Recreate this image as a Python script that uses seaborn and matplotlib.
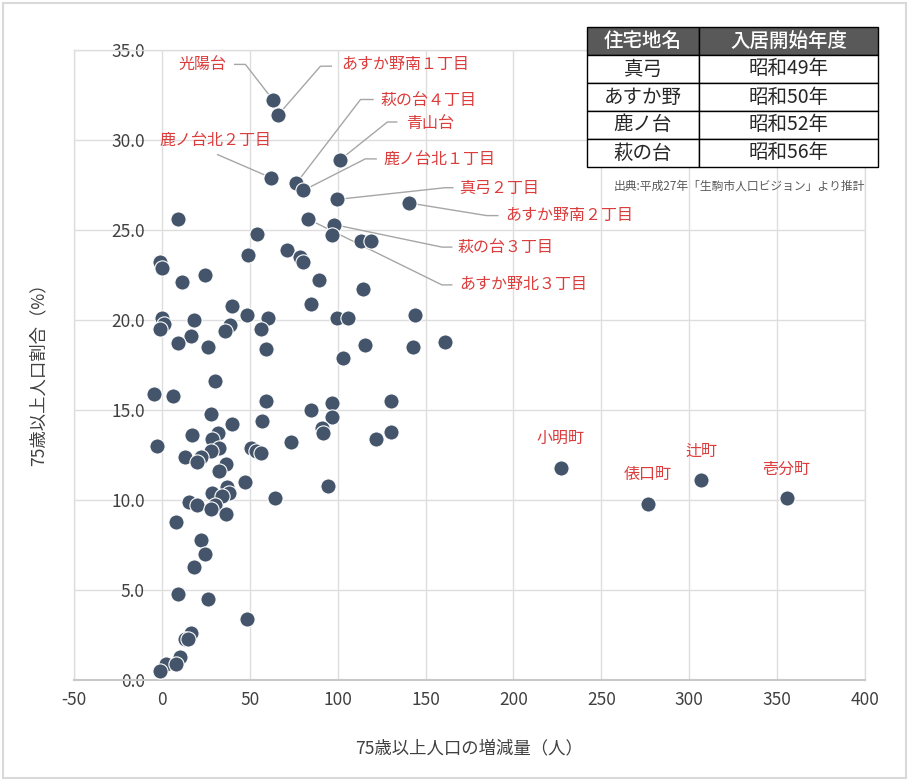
import matplotlib
matplotlib.use("Agg")
import matplotlib.pyplot as plt
import seaborn as sns
import pandas as pd
from matplotlib.patches import Rectangle

# ---------------- data ----------------
named_areas = [
    "光陽台", "あすか野南１丁目", "青山台", "鹿ノ台北２丁目", "萩の台４丁目",
    "鹿ノ台北１丁目", "真弓２丁目", "あすか野南２丁目", "", "あすか野北３丁目",
    "萩の台３丁目",
]
far_labels = ["小明町", "俵口町", "辻町", "壱分町"]

increase = [
    63.4, 66.2, 101.4, 62.2, 76.5, 80.5, 99.8, 140.7, 9.3, 83.3,
    98.0, 96.6, 113.1, 118.8, 54.3, 49.2, 71.4, 78.4, 80.5, 89.4,
    114.5, -0.8, 0.2, 11.2, 24.3, 40.1, 84.7, 48.6, 60.6, 99.8,
    106.1, 144.1, 0.2, 1.1, -1.1, 18.2, 38.5, 35.7, 56.2, 16.3,
    9.3, 26.4, 59.4, 103.3, 115.6, 142.9, 161.0, 30.2, -4.6, 6.3,
    59.4, 96.6, 130.6, 84.7, 28.1, 96.6, 57.1, 40.1, 91.3, 91.9,
    130.6, 121.7, 73.3, 17.3, 32.1, 28.3, 32.5, 27.7, -3.0, 50.5,
    53.4, 56.2, 13.1, 22.0, 20.1, 36.3, 32.5, 47.3, 94.5, 37.2,
    38.2, 28.3, 34.4, 64.3, 15.4, 20.1, 30.2, 27.7, 36.3, 8.2,
    22.4, 24.3, 18.2, 9.3, 26.4, 48.6, 16.3, 13.1, 15.0, 10.1,
    2.5, 8.2, -1.1, 227.0, 276.4, 306.8, 355.5,
]
ratio = [
    32.2, 31.4, 28.9, 27.9, 27.6, 27.2, 26.7, 26.5, 25.6, 25.6,
    25.3, 24.7, 24.4, 24.4, 24.8, 23.6, 23.9, 23.5, 23.2, 22.2,
    21.7, 23.2, 22.9, 22.1, 22.5, 20.8, 20.9, 20.3, 20.1, 20.1,
    20.1, 20.3, 20.1, 19.8, 19.5, 20.0, 19.7, 19.4, 19.5, 19.1,
    18.7, 18.5, 18.4, 17.9, 18.6, 18.5, 18.8, 16.6, 15.9, 15.8,
    15.5, 15.4, 15.5, 15.0, 14.8, 14.6, 14.4, 14.2, 14.0, 13.7,
    13.8, 13.4, 13.2, 13.6, 13.7, 13.4, 12.9, 12.7, 13.0, 12.9,
    12.7, 12.6, 12.4, 12.4, 12.1, 12.0, 11.6, 11.0, 10.8, 10.7,
    10.4, 10.4, 10.2, 10.1, 9.9, 9.7, 9.7, 9.5, 9.2, 8.8,
    7.8, 7.0, 6.3, 4.8, 4.5, 3.4, 2.6, 2.3, 2.3, 1.3,
    0.9, 0.9, 0.5, 11.8, 9.8, 11.1, 10.1,
]
area = named_areas + [""] * (len(increase) - len(named_areas) - len(far_labels)) + far_labels

x_ticks = [-50, 0, 50, 100, 150, 200, 250, 300, 350, 400]
x_tick_labels = ["-50", "0", "50", "100", "150", "200", "250", "300", "350", "400"]
y_ticks = [0, 5, 10, 15, 20, 25, 30, 35]
y_tick_labels = ["0.0", "5.0", "10.0", "15.0", "20.0", "25.0", "30.0", "35.0"]

x_title = "75歳以上人口の増減量（人）"
y_title = "75歳以上人口割合（%）"

table_header = ["住宅地名", "入居開始年度"]
table_areas = ["真弓", "あすか野", "鹿ノ台", "萩の台"]
table_years = ["昭和49年", "昭和50年", "昭和52年", "昭和56年"]
source_note = "出典:平成27年「生駒市人口ビジョン」より推計"

# ---------------- layout of leader-line labels (data coords) ----------------
leader_layout = {
    "光陽台": dict(text=(37.0, 34.2), ha="right", path=[(41.0, 34.2), (47.5, 34.2)]),
    "あすか野南１丁目": dict(text=(102.1, 34.2), ha="left", path=[(96.8, 34.1), (90.2, 34.1)]),
    "萩の台４丁目": dict(text=(124.6, 32.2), ha="left", path=[(120.5, 32.25), (113.0, 32.25)]),
    "青山台": dict(text=(138.8, 30.9), ha="left", path=[(134.0, 31.0), (128.3, 31.0)]),
    "鹿ノ台北２丁目": dict(text=(30.5, 30.0), ha="center", path=[(31.4, 29.2)]),
    "鹿ノ台北１丁目": dict(text=(126.1, 28.9), ha="left", path=[(122.3, 28.95), (115.7, 28.95)]),
    "真弓２丁目": dict(text=(168.8, 27.3), ha="left", path=[(165.9, 27.35), (161.2, 27.35)]),
    "あすか野南２丁目": dict(text=(195.3, 25.8), ha="left", path=[(191.5, 25.8), (184.8, 25.8)]),
    "萩の台３丁目": dict(text=(168.4, 24.05), ha="left", path=[(165.3, 24.05), (159.3, 24.05)]),
    "あすか野北３丁目": dict(text=(169.1, 21.95), ha="left", path=[(165.3, 21.95), (159.3, 21.95)]),
}

# ---------------- style ----------------
sns.set_theme(style="whitegrid")
plt.rcParams["font.family"] = ["Noto Sans CJK JP", "DejaVu Sans"]

POINT = "#44546a"
RED = "#dc3c3c"
GRID = "#dedede"
TXT = "#404040"

W, H = 910, 782
fig = plt.figure(figsize=(W / 100, H / 100), dpi=100)
fig.patch.set_facecolor("white")
fig.patches.append(Rectangle((3 / W, 4 / H), 903 / W, 775 / H, transform=fig.transFigure,
                             fill=False, edgecolor="#d9d9d9", lw=1.5))

ax = fig.add_axes([74 / W, 102 / H, 791 / W, 630 / H])
ax.set_facecolor("white")

df = pd.DataFrame({"area": area, "increase": increase, "ratio": ratio})

# leader lines
for name, lay in leader_layout.items():
    row = df[df["area"] == name].iloc[0]
    xs = [p[0] for p in lay["path"]] + [row["increase"]]
    ys = [p[1] for p in lay["path"]] + [row["ratio"]]
    ax.plot(xs, ys, color="#a6a6a6", lw=1.0, zorder=2, solid_capstyle="butt")
    ax.text(lay["text"][0], lay["text"][1], name, ha=lay["ha"], va="center",
            color=RED, fontsize=11.5, zorder=4)

sns.scatterplot(data=df, x="increase", y="ratio", s=120, color=POINT,
                edgecolor="white", linewidth=0.8, ax=ax, zorder=3, legend=False)

for name in far_labels:
    row = df[df["area"] == name].iloc[0]
    ax.annotate(name, (row["increase"], row["ratio"]), xytext=(0, 21),
                textcoords="offset points", ha="center", va="center",
                color=RED, fontsize=11.5, zorder=4)

ax.set_xlim(-50, 400)
ax.set_ylim(0, 35)
ax.set_xticks(x_ticks)
ax.set_xticklabels(x_tick_labels)
ax.set_yticks(y_ticks)
ax.set_yticklabels(y_tick_labels)
ax.grid(True, color=GRID, lw=1.0)
ax.set_axisbelow(True)
for s in ax.spines.values():
    s.set_color(GRID)
    s.set_linewidth(1.0)
ax.spines["bottom"].set_color("#c8c8c8")
ax.spines["bottom"].set_linewidth(1.5)

ax.tick_params(axis="both", length=0, labelsize=12.5, labelcolor=TXT)
ax.tick_params(axis="y", pad=-51)
ax.tick_params(axis="x", pad=8)

ax.set_xlabel(x_title, fontsize=12.5, color=TXT, va="center")
ax.xaxis.set_label_coords(0.5, (680 - 748) / 630)
ax.set_ylabel(y_title, fontsize=12.5, color=TXT, va="center")
ax.yaxis.set_label_coords((38 - 74) / 791, (680 - 370) / 630)

# table
cell_text = [table_header] + [[a, y] for a, y in zip(table_areas, table_years)]
tbl = ax.table(cellText=cell_text, cellLoc="center",
               colWidths=[112 / 291, 179 / 291],
               bbox=[(587 - 74) / 791, (680 - 167) / 630, 291 / 791, 140 / 630])
tbl.auto_set_font_size(False)
for (r, c), cell in tbl.get_celld().items():
    cell.set_edgecolor("#000000")
    cell.set_linewidth(1.0)
    cell.get_text().set_fontsize(14)
    if r == 0:
        cell.set_facecolor("#595959")
        cell.get_text().set_color("white")
        cell.get_text().set_fontweight("medium")
    else:
        cell.set_facecolor("white")
        cell.get_text().set_color("#262626")
tbl.set_zorder(5)

ax.text(1.0, (680 - 186) / 630, source_note, transform=ax.transAxes, ha="right",
        va="center", fontsize=8.5, color="#595959")

fig.savefig("out.png", dpi=100)
